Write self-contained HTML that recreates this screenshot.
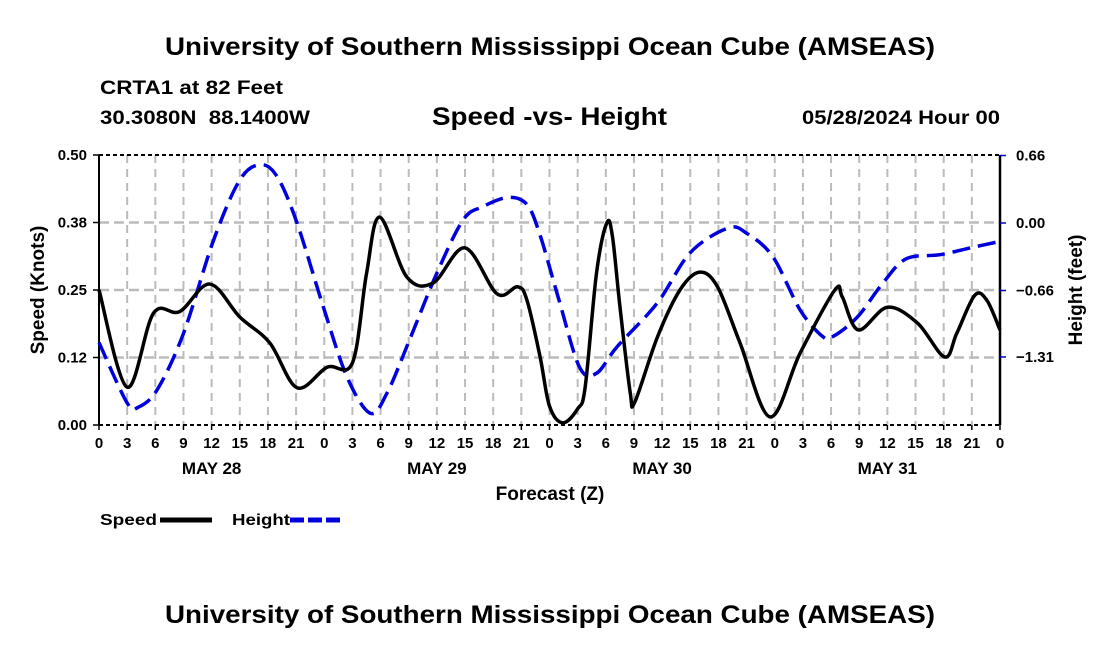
<!DOCTYPE html>
<html><head><meta charset="utf-8"><style>
body{margin:0;background:#fff;}
svg{display:block;font-family:"Liberation Sans",sans-serif;}
</style></head><body>
<svg id="chart" width="1100" height="650">
<text x="165" y="55" font-size="25" font-weight="bold" textLength="770" lengthAdjust="spacingAndGlyphs">University of Southern Mississippi Ocean Cube (AMSEAS)</text>
<text x="100" y="94" font-size="19" font-weight="bold" textLength="183" lengthAdjust="spacingAndGlyphs">CRTA1 at 82 Feet</text>
<text x="100" y="124" font-size="19" font-weight="bold" textLength="210" lengthAdjust="spacingAndGlyphs" xml:space="preserve">30.3080N  88.1400W</text>
<text x="432" y="125" font-size="25" font-weight="bold" textLength="235" lengthAdjust="spacingAndGlyphs">Speed -vs- Height</text>
<text x="802" y="124" font-size="19" font-weight="bold" textLength="198" lengthAdjust="spacingAndGlyphs">05/28/2024 Hour 00</text>
<g id="grid"></g>
<g id="axes"></g>
<g id="series"></g>
<text x="550" y="500" text-anchor="middle" font-size="19" font-weight="bold">Forecast (Z)</text>
<text transform="translate(44,290) rotate(-90)" text-anchor="middle" font-size="19" font-weight="bold">Speed (Knots)</text>
<text transform="translate(1082,290) rotate(-90)" text-anchor="middle" font-size="19" font-weight="bold">Height (feet)</text>
<g><text x="100" y="525" font-size="16" font-weight="bold" textLength="57" lengthAdjust="spacingAndGlyphs">Speed</text><line x1="160" y1="520" x2="212" y2="520" stroke="#000" stroke-width="5"/></g>
<g><text x="232" y="525" font-size="16" font-weight="bold" textLength="58" lengthAdjust="spacingAndGlyphs">Height</text><line x1="290" y1="520" x2="342" y2="520" stroke="#0000dd" stroke-width="5" stroke-dasharray="14,4"/></g>
<text x="165" y="623" font-size="25" font-weight="bold" textLength="770" lengthAdjust="spacingAndGlyphs">University of Southern Mississippi Ocean Cube (AMSEAS)</text>
</svg>
<script>
const speedHours=[0,3,5.8,8.6,11.8,15,18.2,21.1,24.3,27,28.5,29.9,32.8,35.6,39,42.4,44.6,45.6,47,48,49.4,51,51.8,53,54.1,54.7,55.5,56.6,57.1,59.5,61.9,64,65.9,68.3,71.5,74.7,78.4,79.2,80.9,84,87.2,90.1,91.4,93.3,94.6,96];
const speedValues=[0.25,0.07,0.207,0.21,0.261,0.2,0.152,0.069,0.107,0.115,0.28,0.385,0.274,0.263,0.328,0.243,0.256,0.231,0.126,0.035,0.004,0.03,0.07,0.28,0.374,0.35,0.22,0.06,0.043,0.163,0.25,0.283,0.256,0.152,0.015,0.133,0.25,0.237,0.176,0.218,0.189,0.126,0.17,0.24,0.231,0.176];
const heightHours=[0,3,4.2,6.2,9,12.2,15,17.2,19,21.1,23.9,26.4,28.9,30.7,33.1,36,38.8,40.9,43.6,45.6,47,49,51.2,53,55.2,59.5,63,67,69,71.8,74.7,77.1,78.2,80.8,83.5,86,89.6,93,96];
const heightValues=[-1.17,-1.76,-1.8,-1.63,-1.08,-0.17,0.42,0.57,0.45,0,-0.82,-1.5,-1.86,-1.66,-1.14,-0.49,0.03,0.16,0.25,0.18,-0.12,-0.75,-1.41,-1.47,-1.21,-0.78,-0.29,-0.05,-0.1,-0.33,-0.85,-1.11,-1.11,-0.92,-0.59,-0.35,-0.31,-0.24,-0.18];
const speedTicks=[0,0.125,0.25,0.375,0.5];
const speedTickLabels=["0.00","0.12","0.25","0.38","0.50"];
const heightTicks=[-1.31,-0.66,0,0.66];
const heightTickLabels=["\u22121.31","\u22120.66","0.00","0.66"];
const dayLabels=["MAY 28","MAY 29","MAY 30","MAY 31"];
const X0=99,X1=1000,Y0=425,Y1=155;
const xs=h=>X0+h/96*(X1-X0);
const ySpeed=v=>Y0-v/0.5*(Y0-Y1);
const yHeight=f=>223-f/0.66*67.5;
const NS="http://www.w3.org/2000/svg";
function mk(tag,attrs,parent){const e=document.createElementNS(NS,tag);for(const k in attrs)e.setAttribute(k,attrs[k]);parent.appendChild(e);return e;}
const grid=document.getElementById('grid'),axes=document.getElementById('axes'),series=document.getElementById('series');
for(let h=3;h<96;h+=3){const l=mk('line',{x1:xs(h),x2:xs(h),y1:Y1,y2:Y0,stroke:'#bbb','stroke-width':2,'stroke-dasharray':'8,6'},grid);

}
speedTicks.slice(1,4).forEach(v=>{const l=mk('line',{x1:X0,x2:X1,y1:ySpeed(v),y2:ySpeed(v),stroke:'#bbb','stroke-width':2.5,'stroke-dasharray':'10,5'},grid);

});
mk('line',{x1:X0,x2:X1,y1:Y1,y2:Y1,stroke:'#000','stroke-width':2,'stroke-dasharray':'4,3'},axes);
mk('line',{x1:X0,x2:X1,y1:Y0,y2:Y0,stroke:'#000','stroke-width':2,'stroke-dasharray':'4,3'},axes);
mk('line',{x1:X0,x2:X0,y1:Y1,y2:Y0,stroke:'#000','stroke-width':2},axes);
mk('line',{x1:X1,x2:X1,y1:Y1,y2:Y0,stroke:'#000','stroke-width':2.5},axes);
speedTicks.forEach((v,i)=>{mk('line',{x1:X0-6,x2:X0,y1:ySpeed(v),y2:ySpeed(v),stroke:'#000','stroke-width':1.5},axes);
const t=mk('text',{x:X0-12,y:ySpeed(v)+5,'text-anchor':'end','font-size':15,'font-weight':'bold'},axes);t.textContent=speedTickLabels[i];

});
heightTicks.forEach((v,i)=>{mk('line',{x1:X1,x2:X1+6,y1:yHeight(v),y2:yHeight(v),stroke:'#0000cc','stroke-width':1.5},axes);
const t=mk('text',{x:X1+16,y:yHeight(v)+5,'font-size':15,'font-weight':'bold'},axes);t.textContent=heightTickLabels[i];

});
for(let h=0;h<=96;h+=3){mk('line',{x1:xs(h),x2:xs(h),y1:Y0,y2:Y0+5,stroke:'#000','stroke-width':1.5},axes);
const t=mk('text',{x:xs(h),y:448,'text-anchor':'middle','font-size':15,'font-weight':'bold'},axes);t.textContent=String(h%24);

}
dayLabels.forEach((d,i)=>{const t=mk('text',{x:xs(i*24+12),y:474,'text-anchor':'middle','font-size':17,'font-weight':'bold'},axes);t.textContent=d;

});
function smooth(pts){let d='M'+pts[0][0]+','+pts[0][1];for(let i=0;i<pts.length-1;i++){const p0=pts[Math.max(0,i-1)],p1=pts[i],p2=pts[i+1],p3=pts[Math.min(pts.length-1,i+2)];
d+=' C'+(p1[0]+(p2[0]-p0[0])/6)+','+(p1[1]+(p2[1]-p0[1])/6)+' '+(p2[0]-(p3[0]-p1[0])/6)+','+(p2[1]-(p3[1]-p1[1])/6)+' '+p2[0]+','+p2[1];}return d;}
const hp=mk('path',{d:smooth(heightHours.map((h,i)=>[xs(h),yHeight(heightValues[i])])),fill:'none',stroke:'#0000dd','stroke-width':3.5,'stroke-dasharray':'18,8'},series);


const sp=mk('path',{d:smooth(speedHours.map((h,i)=>[xs(h),ySpeed(speedValues[i])])),fill:'none',stroke:'#000','stroke-width':3.5},series);


</script>
</body></html>
